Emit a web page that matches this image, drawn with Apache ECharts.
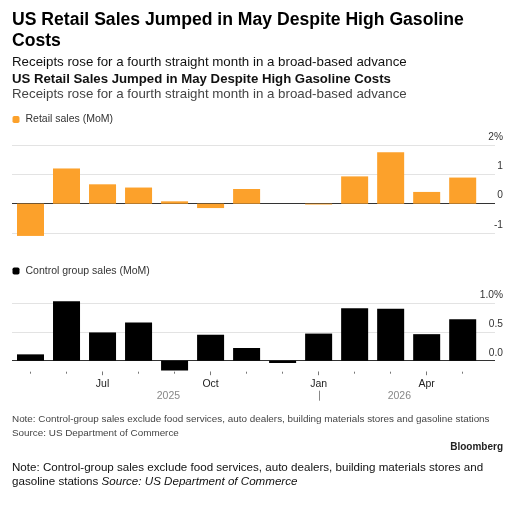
<!DOCTYPE html>
<html>
<head>
<meta charset="utf-8">
<script src="https://cdn.jsdelivr.net/npm/echarts@6/dist/echarts.min.js"></script>
<style>
html,body{margin:0;padding:0;background:#fff;}
#chart{width:526px;height:507px;}
</style>
</head>
<body>
<div id="chart"></div>
<script>
// ---- data ----
const categories = ['2025-05','2025-06','2025-07','2025-08','2025-09','2025-10','2025-11','2025-12','2026-01','2026-02','2026-03','2026-04','2026-05'];
const monthNames = {'01':'Jan','04':'Apr','07':'Jul','10':'Oct'};
const retailSales = [-1.1, 1.2, 0.66, 0.55, 0.08, -0.15, 0.5, 0.0, -0.03, 0.93, 1.75, 0.4, 0.89];
const controlGroup = [0.11, 1.03, 0.49, 0.66, -0.17, 0.45, 0.22, -0.04, 0.47, 0.91, 0.90, 0.46, 0.72];
const retailTicks = {'-1':'-1','0':'0','1':'1','2':'2%'};
const controlTicks = {'0':'0.0','0.5':'0.5','1':'1.0%'};
const years = ['2025','2026'];

const FONT = '"Liberation Sans", Arial, sans-serif';
const ORANGE = '#fca12b';
const GRID_LINE = '#e3e3e3';
const ZERO_LINE = '#333';

const chart = echarts.init(document.getElementById('chart'), null, {renderer:'canvas'});

function yLabel(map){
  return {
    show:true, inside:false, margin:8, align:'right', verticalAlign:'bottom',
    padding:[0,0,3,0], fontSize:10.2, color:'#333', fontFamily:FONT,
    formatter: v => map[String(+v.toFixed(2))] ?? ''
  };
}
const hiddenAxis = {axisLine:{show:false}, axisTick:{show:false}, axisLabel:{show:false}, splitLine:{show:false}};

const option = {
  animation:false,
  backgroundColor:'#fff',
  title:[
    {text:'US Retail Sales Jumped in May Despite High Gasoline\nCosts', left:12, top:10, padding:0,
     textStyle:{fontFamily:FONT, fontSize:17.6, fontWeight:'bold', color:'#000', lineHeight:21}},
    {text:'Receipts rose for a fourth straight month in a broad-based advance', left:12, top:55.5, padding:0,
     textStyle:{fontFamily:FONT, fontSize:13.3, fontWeight:'normal', color:'#111', lineHeight:14}},
    {text:'US Retail Sales Jumped in May Despite High Gasoline Costs', left:12, top:72.5, padding:0,
     textStyle:{fontFamily:FONT, fontSize:13.2, fontWeight:'bold', color:'#111', lineHeight:14}},
    {text:'Receipts rose for a fourth straight month in a broad-based advance', left:12, top:87.5, padding:0,
     textStyle:{fontFamily:FONT, fontSize:13.3, fontWeight:'normal', color:'#444', lineHeight:14}},
    {text:'Note: Control-group sales exclude food services, auto dealers, building materials stores and gasoline stations\nSource: US Department of Commerce',
     left:12, top:412.5, padding:0, textStyle:{fontFamily:FONT, fontSize:9.9, fontWeight:'normal', color:'#444', lineHeight:14}},
    {text:'Bloomberg', right:23, top:441.5, padding:0, textStyle:{fontFamily:FONT, fontSize:10, fontWeight:'bold', color:'#222', lineHeight:12}},
    {text:'Note: Control-group sales exclude food services, auto dealers, building materials stores and\ngasoline stations {i|Source: US Department of Commerce}',
     left:12, top:460.5, padding:0, textStyle:{fontFamily:FONT, fontSize:11.6, fontWeight:'normal', color:'#111', lineHeight:14.5,
       rich:{i:{fontStyle:'italic', fontFamily:FONT, fontSize:11.6, color:'#111', lineHeight:14.5}}}}
  ],
  legend:[
    {data:['Retail sales (MoM)'], left:12.5, top:114, padding:0, itemWidth:7, itemHeight:7, icon:'roundRect', itemGap:5,
     textStyle:{fontFamily:FONT, fontSize:10.5, color:'#333', padding:[0,0,0,1]}, selectedMode:false},
    {data:['Control group sales (MoM)'], left:12.5, top:265.5, padding:0, itemWidth:7, itemHeight:7, icon:'roundRect',
     textStyle:{fontFamily:FONT, fontSize:10.5, color:'#333', padding:[0,0,0,1]}, selectedMode:false}
  ],
  grid:[
    {left:12.5, right:45.3, top:145, height:88},   // retail bars
    {left:12, right:31, top:145, height:88},       // retail scale / gridlines
    {left:12.5, right:45.3, top:303, height:57.7}, // control bars
    {left:12, right:31, top:303, height:57.7},     // control scale / gridlines
    {left:12.5, right:45.3, top:303, height:68.7}  // month ticks & labels below the control bars
  ],
  xAxis:[
    Object.assign({type:'category', gridIndex:0, data:categories}, hiddenAxis),
    Object.assign({type:'value', gridIndex:1, min:0, max:1}, hiddenAxis),
    Object.assign({type:'category', gridIndex:2, data:categories}, hiddenAxis),
    Object.assign({type:'value', gridIndex:3, min:0, max:1}, hiddenAxis),
    {type:'category', gridIndex:4, data:categories, position:'bottom', axisLine:{show:false},
     axisTick:{show:true, alignWithLabel:true, length:2, lineStyle:{color:'#777'}},
     axisLabel:{show:true, interval:0, margin:6.5, fontSize:10.5, color:'#222', fontFamily:FONT,
       formatter: v => monthNames[v.slice(5)] || ''}},
    {type:'category', gridIndex:4, data:categories, position:'bottom', axisLine:{show:false},
     axisTick:{show:true, alignWithLabel:true, length:3.5, interval:(i)=> i%3===2, lineStyle:{color:'#777'}},
     axisLabel:{show:false}}
  ],
  yAxis:[
    Object.assign({type:'value', gridIndex:0, min:-1, max:2, interval:1}, hiddenAxis),
    {type:'value', gridIndex:1, position:'right', min:-1, max:2, interval:1,
     axisLine:{show:false}, axisTick:{show:false}, axisLabel:yLabel(retailTicks),
     splitLine:{show:true, lineStyle:{color:[GRID_LINE, ZERO_LINE, GRID_LINE, GRID_LINE], width:1}}},
    Object.assign({type:'value', gridIndex:2, min:0, max:1, interval:0.5}, hiddenAxis),
    {type:'value', gridIndex:3, position:'right', min:0, max:1, interval:0.5,
     axisLine:{show:false}, axisTick:{show:false}, axisLabel:yLabel(controlTicks),
     splitLine:{show:true, lineStyle:{color:[ZERO_LINE, GRID_LINE, GRID_LINE], width:1}}},
    Object.assign({type:'value', gridIndex:4, min:0, max:1}, hiddenAxis)
  ],
  series:[
    {name:'Retail sales (MoM)', type:'bar', xAxisIndex:0, yAxisIndex:0, data:retailSales,
     barCategoryGap:'25%', clip:false, itemStyle:{color:ORANGE}},
    {name:'Control group sales (MoM)', type:'bar', xAxisIndex:2, yAxisIndex:2, data:controlGroup,
     barCategoryGap:'25%', clip:false, itemStyle:{color:'#000'}}
  ]
};
chart.setOption(option);

// year labels along the lower axis, placed through the axis scale
const step = chart.convertToPixel({xAxisIndex:4}, categories[1]) - chart.convertToPixel({xAxisIndex:4}, categories[0]);
const janX = chart.convertToPixel({xAxisIndex:4}, categories[8]);
const y0 = chart.convertToPixel({yAxisIndex:2}, 0);
const yearY = y0 + 35;
chart.setOption({
  graphic:[
    {type:'text', x: janX - 4.17*step, y: yearY, style:{text:years[0], fontFamily:FONT, fontSize:10.5, fill:'#888', align:'center', verticalAlign:'middle'}},
    {type:'text', x: janX + 2.24*step, y: yearY, style:{text:years[1], fontFamily:FONT, fontSize:10.5, fill:'#888', align:'center', verticalAlign:'middle'}},
    {type:'line', shape:{x1:Math.round(janX)+0.5, y1:yearY-5, x2:Math.round(janX)+0.5, y2:yearY+5}, style:{stroke:'#888', lineWidth:1}}
  ]
});
</script>
</body>
</html>
